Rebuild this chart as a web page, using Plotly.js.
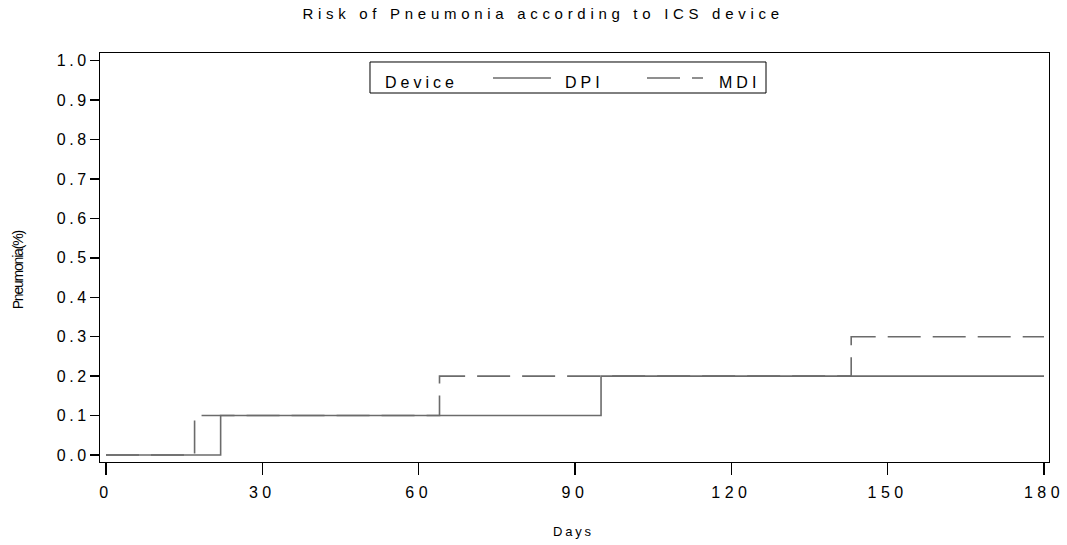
<!DOCTYPE html>
<html>
<head>
<meta charset="utf-8">
<script src="https://cdn.plot.ly/plotly-3.0.1.min.js"></script>
<style>
  html, body { margin: 0; padding: 0; background: #fff; }
  #chart { width: 1067px; height: 545px; }
  /* wide-tracked lettering */
  .gtitle { letter-spacing: 4.7px; }
  .xtick text { letter-spacing: 4.5px; }
  .ytick text { letter-spacing: 3.6px; }
  .annotation .annotation-text { letter-spacing: 4px; }
  .annotation[data-index="3"] .annotation-text { letter-spacing: 2.8px; }
  .annotation[data-index="4"] .annotation-text { letter-spacing: -1.2px; }
</style>
</head>
<body>
<div id="chart"></div>
<script>
// Cumulative pneumonia risk by ICS device (step functions)
const dpiDays = [0, 22, 95, 180];
const dpiRisk = [0, 0.1, 0.2, 0.2];
const mdiDays = [0, 17, 64, 143, 180];
const mdiRisk = [0, 0.1, 0.2, 0.3, 0.3];

const xTicks = [0, 30, 60, 90, 120, 150, 180];
const yTicks = [0, 0.1, 0.2, 0.3, 0.4, 0.5, 0.6, 0.7, 0.8, 0.9, 1.0];
const yTickText = yTicks.map(v => v.toFixed(1));

const FONT = '"Liberation Sans", Arial, sans-serif';
const LINE = '#6b6b6b';
const MDI_DASH = '33px,12px';

const traces = [
  {
    x: dpiDays, y: dpiRisk, name: 'DPI', type: 'scatter', mode: 'lines',
    line: { shape: 'hv', color: LINE, width: 1.6 }
  },
  {
    x: mdiDays, y: mdiRisk, name: 'MDI', type: 'scatter', mode: 'lines',
    line: { shape: 'hv', color: LINE, width: 1.6, dash: MDI_DASH }
  }
];

// key box drawn inside the top of the plot area (paper coordinates)
const keyBox = { x0: 0.2845, x1: 0.7018, y0: 0.9022, y1: 0.9780 };
const keyLineY = 0.9389;
const keyTextY = 0.9290;

const txt = (text, x, y, extra) => Object.assign({
  text: text, showarrow: false, xref: 'paper', yref: 'paper',
  x: x, y: y, xanchor: 'left', yanchor: 'middle', align: 'left',
  font: { family: FONT, size: 16, color: '#000' }
}, extra || {});

const layout = {
  width: 1067, height: 545,
  margin: { l: 100, r: 18, t: 53, b: 83 },
  paper_bgcolor: '#fff', plot_bgcolor: '#fff',
  font: { family: FONT, size: 16, color: '#000' },
  showlegend: false,
  title: {
    text: 'Risk of Pneumonia according to ICS device',
    font: { family: FONT, size: 15, color: '#000' },
    xref: 'container', x: 0.509, xanchor: 'center',
    yref: 'container', y: 0.975, yanchor: 'middle'
  },
  xaxis: {
    range: [-1.15, 180.96], tickvals: xTicks,
    showgrid: false, zeroline: false,
    showline: true, linecolor: '#000', linewidth: 1, mirror: true,
    ticks: 'outside', ticklen: 12, tickcolor: '#000', tickwidth: 1.5,
    tickfont: { family: FONT, size: 16, color: '#000' },
    ticklabelstandoff: 4
  },
  yaxis: {
    range: [-0.0178, 1.0195], tickvals: yTicks, ticktext: yTickText,
    showgrid: false, zeroline: false,
    showline: true, linecolor: '#000', linewidth: 1, mirror: true,
    ticks: 'outside', ticklen: 9, tickcolor: '#000', tickwidth: 1.5,
    tickfont: { family: FONT, size: 16, color: '#000' },
    ticklabelstandoff: -3
  },
  shapes: [
    { type: 'rect', xref: 'paper', yref: 'paper',
      x0: keyBox.x0, x1: keyBox.x1, y0: keyBox.y0, y1: keyBox.y1,
      line: { color: '#000', width: 1 }, fillcolor: '#fff' },
    { type: 'line', xref: 'paper', yref: 'paper',
      x0: 0.4141, x1: 0.4752, y0: keyLineY, y1: keyLineY,
      line: { color: LINE, width: 1.6 } },
    { type: 'line', xref: 'paper', yref: 'paper',
      x0: 0.5764, x1: 0.6354, y0: keyLineY, y1: keyLineY,
      line: { color: LINE, width: 1.6, dash: MDI_DASH } }
  ],
  annotations: [
    txt('Device', 0.2982, keyTextY),
    txt('DPI', 0.4879, keyTextY),
    txt('MDI', 0.6502, keyTextY),
    txt('Days', 0.4752, -0.171, { font: { family: FONT, size: 13, color: '#000' } }),
    {
      text: 'Pneumonia(%)', showarrow: false, textangle: -90,
      xref: 'paper', yref: 'paper', x: -0.0869, y: 0.4694,
      xanchor: 'center', yanchor: 'middle',
      font: { family: FONT, size: 14, color: '#000' }
    }
  ]
};

Plotly.newPlot('chart', traces, layout, { displayModeBar: false, staticPlot: true });
</script>
</body>
</html>
